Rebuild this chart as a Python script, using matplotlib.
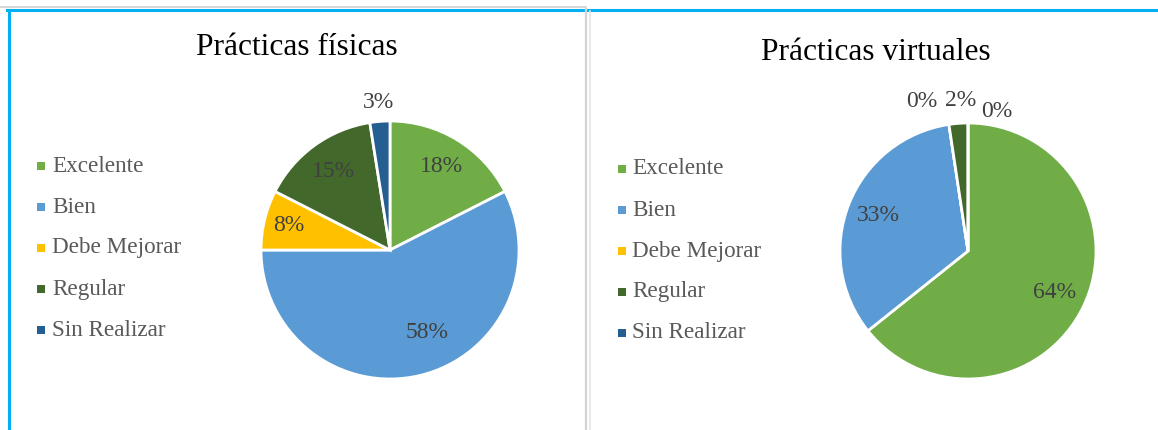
import numpy as np
import matplotlib
matplotlib.use("Agg")
import matplotlib.pyplot as plt
from matplotlib.lines import Line2D
from matplotlib.patches import Rectangle

# ---------------- data ----------------
categories = ["Excelente", "Bien", "Debe Mejorar", "Regular", "Sin Realizar"]
fisicas_counts = [7, 23, 3, 6, 1]
virtuales_counts = [27, 14, 0, 1, 0]
titles = ["Prácticas físicas", "Prácticas virtuales"]
colors = ["#70AD47", "#5B9BD5", "#FFC000", "#43682B", "#255E91"]

# label placement (style): radius fraction and angular nudge (deg, clockwise)
fis_lab_r = [0.76, 0.70, 0.81, 0.75, 1.15]
fis_lab_da = [0, -11, 0, 0, 0]
vir_lab_r = [0.75, 0.75, 1.22, 1.18, 1.11]
vir_lab_da = [0, 0, -8.5, 1.3, 11.8]

W, H = 1158, 430
fig = plt.figure(figsize=(W / 100, H / 100), dpi=100)
plt.rcParams['font.family'] = ['Liberation Serif', 'DejaVu Serif']


def fx(x):
    return x / W


def fy(y):
    return 1 - y / H


def pct_label(v, tot):
    p = 100.0 * v / tot
    return f"{int(np.floor(p + 0.5))}%"


def draw_pie(cx, cy, r, counts, lab_r, lab_da):
    ax = fig.add_axes([fx(cx - r), fy(cy + r), 2 * r / W, 2 * r / H])
    ax.pie(counts, colors=colors, startangle=90, counterclock=False,
           wedgeprops=dict(edgecolor="white", linewidth=2.0))
    ax.set_xlim(-1, 1)
    ax.set_ylim(-1, 1)
    ax.set_aspect("equal")
    ax.axis("off")
    tot = float(sum(counts))
    cum = 0.0
    for v, rr, da in zip(counts, lab_r, lab_da):
        mid = (cum + v / 2.0) / tot * 360.0 + da
        cum += v
        th = np.deg2rad(mid)
        ax.text(rr * np.sin(th), rr * np.cos(th), pct_label(v, tot),
                ha="center", va="center", fontsize=17, color="#404040",
                clip_on=False)
    return ax


def draw_legend(mx, tx, y0, dy):
    for i, (c, name) in enumerate(zip(colors, categories)):
        y = y0 + i * dy
        fig.add_artist(Rectangle((fx(mx - 4), fy(y + 4)), 8 / W, 8 / H,
                                 transform=fig.transFigure, facecolor=c,
                                 edgecolor="none"))
        fig.text(fx(tx), fy(y), name, ha="left", va="center",
                 fontsize=16.7, color="#595959")


# borders
fig.add_artist(Line2D([fx(0), fx(586)], [fy(7), fy(7)], color="#D0D0D0", lw=1.2))
fig.add_artist(Line2D([fx(7), fx(W)], [fy(10), fy(10)], color="#00B0F0", lw=2.2))
fig.add_artist(Line2D([fx(8.5), fx(8.5)], [fy(10), fy(H)], color="#00B0F0", lw=2.2))
fig.add_artist(Line2D([fx(586), fx(586)], [fy(9), fy(H)], color="#D4D4D4", lw=1.6))
fig.add_artist(Line2D([fx(589.5), fx(589.5)], [fy(11), fy(H)], color="#E4E4E4", lw=1.2))

# titles
fig.text(fx(297), fy(55), titles[0], ha="center", va="baseline",
         fontsize=22.6, color="black")
fig.text(fx(876), fy(60), titles[1], ha="center", va="baseline",
         fontsize=22.6, color="black")

draw_pie(390, 250, 129, fisicas_counts, fis_lab_r, fis_lab_da)
draw_pie(968, 251, 128, virtuales_counts, vir_lab_r, vir_lab_da)

draw_legend(41, 52, 166, 41)
draw_legend(622, 632, 169, 41)

fig.savefig("out.png", dpi=100)
